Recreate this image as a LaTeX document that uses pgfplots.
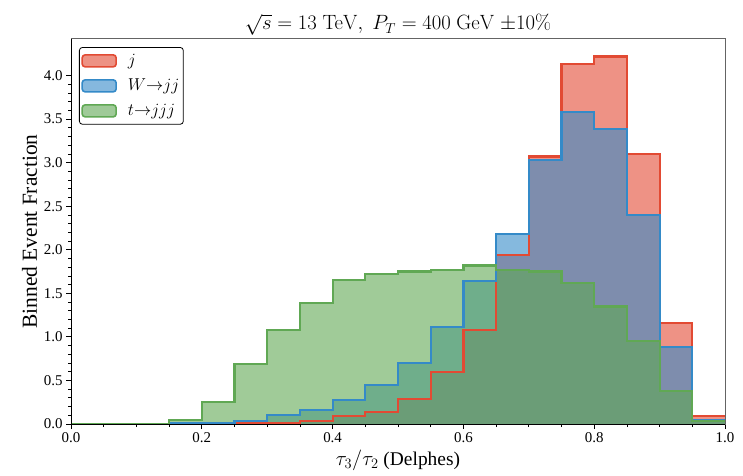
\documentclass[border=0pt]{standalone}
\usepackage{pgfplots}
\pgfplotsset{compat=1.18}
\usepackage[no-math]{fontspec}
\setmainfont{Liberation Serif}
\definecolor{cred}{RGB}{226,74,51}
\definecolor{cblue}{RGB}{52,138,200}
\definecolor{cgreen}{RGB}{96,168,84}
\definecolor{spine}{RGB}{100,100,100}
\pgfplotstableread{
x red blue green
0.00 0 0 0
0.05 0 0 0
0.10 0 0 0
0.15 0 0.008 0.05
0.20 0 0.015 0.25
0.25 0.01 0.035 0.69
0.30 0.015 0.10 1.08
0.35 0.035 0.16 1.39
0.40 0.09 0.28 1.65
0.45 0.14 0.45 1.72
0.50 0.29 0.70 1.75
0.55 0.60 1.11 1.77
0.60 1.08 1.64 1.82
0.65 1.94 2.18 1.77
0.70 3.07 3.03 1.75
0.75 4.13 3.58 1.62
0.80 4.22 3.39 1.35
0.85 3.10 2.40 0.95
0.90 1.16 0.88 0.38
0.95 0.09 0.05 0.03
1.00 0.09 0.05 0.03
}\hist
\begin{document}
\begin{tikzpicture}
\begin{axis}[
  name=ax,
  at={(0,0)}, anchor=south west,
  scale only axis, width=654bp, height=385bp,
  xmin=0, xmax=1, ymin=0, ymax=4.42,
  xtick={0,0.2,0.4,0.6,0.8,1.0}, minor x tick num=3,
  ytick={0,0.5,1.0,1.5,2.0,2.5,3.0,3.5,4.0}, minor y tick num=4,
  xtick pos=bottom, ytick pos=left,
  tick align=outside,
  major tick length=5bp, minor tick length=3bp,
  every tick/.style={black, line width=0.8bp},
  axis line style={draw=spine, line width=1bp},
  axis on top,
  /pgf/number format/assume math mode=true,
  xticklabel style={/pgf/number format/.cd, fixed, fixed zerofill, precision=1},
  yticklabel style={/pgf/number format/.cd, fixed, fixed zerofill, precision=1},
  tick label style={font=\fontsize{15}{15}\selectfont},
  xlabel={$\tau_3/\tau_2$ (Delphes)},
  xlabel style={font=\fontsize{19.5}{19.5}\selectfont},
  ylabel={Binned Event Fraction},
  ylabel style={font=\fontsize{21.5}{21.5}\selectfont},
  title={$\sqrt{s}=13\ \mathrm{TeV},\ P_T=400\ \mathrm{GeV}\ {\pm}10\%$},
  every axis title/.style={at={(0.5,1)}, anchor=base, yshift=9bp, font=\fontsize{22.5}{22.5}\selectfont},
  legend style={at={(0.0122,0.979)}, anchor=north west, draw=black, rounded corners=3bp,
    font=\fontsize{17}{17}\selectfont, line width=0.8bp, fill=white,
    inner xsep=2bp, inner ysep=5bp, row sep=8bp},
  legend cell align=left,
  legend image code/.code={\draw[#1] (0bp,-6bp) rectangle (34bp,6bp);},
]
\addlegendimage{fill=cred, fill opacity=0.6, draw=cred, line width=1.6bp}
\addlegendentry{\hspace{9bp}$j$}
\addlegendimage{fill=cblue, fill opacity=0.6, draw=cblue, line width=1.6bp}
\addlegendentry{\hspace{9bp}$W{\rightarrow}jj$}
\addlegendimage{fill=cgreen, fill opacity=0.6, draw=cgreen, line width=1.6bp}
\addlegendentry{\hspace{9bp}$t{\rightarrow}jjj$}
\addplot[forget plot, const plot, draw=none, fill=cred, fill opacity=0.6] table[x=x, y=red] {\hist} \closedcycle;
\addplot[forget plot, const plot, draw=none, fill=cblue, fill opacity=0.6] table[x=x, y=blue] {\hist} \closedcycle;
\addplot[forget plot, const plot, draw=none, fill=cgreen, fill opacity=0.6] table[x=x, y=green] {\hist} \closedcycle;
\addplot[forget plot, const plot, draw=cred, line width=2.2bp] table[x=x, y=red] {\hist};
\addplot[forget plot, const plot, draw=cblue, line width=2.2bp] table[x=x, y=blue] {\hist};
\addplot[forget plot, const plot, draw=cgreen, line width=2.2bp] table[x=x, y=green] {\hist};
\end{axis}
\draw[black, line width=1bp] (ax.north west) -- (ax.south west) -- (ax.south east);
\pgfresetboundingbox
\path (-71bp,-52bp) rectangle (672bp,424bp);
\end{tikzpicture}
\end{document}
